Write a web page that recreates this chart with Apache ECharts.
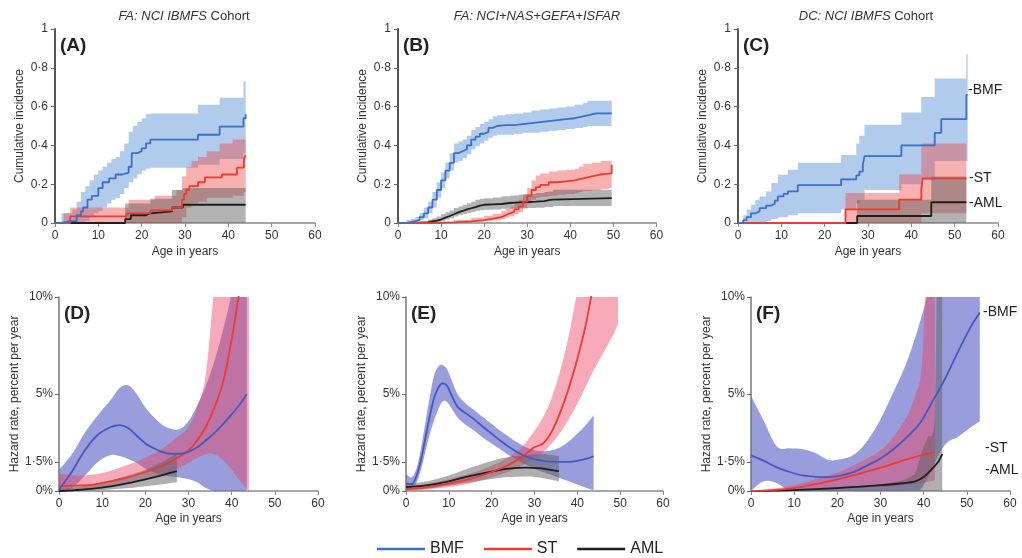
<!DOCTYPE html>
<html><head><meta charset="utf-8">
<script src="https://cdn.jsdelivr.net/npm/echarts@6/dist/echarts.min.js"></script>
<style>html,body{margin:0;padding:0;background:#fff}#c{width:1022px;height:558px}</style>
</head><body><div id="c"></div><script>
// ---------- DATA ----------
const seriesNames = ['BMF', 'ST', 'AML'];
const hazTicks = [0, 1.5, 5, 10];

// Panel A (FA: NCI IBMFS Cohort) cumulative incidence
const aBmfX = [0, 1.5, 3.5, 5, 6, 6.5, 7.5, 8.5, 10, 11, 12.5, 14, 15.5, 17, 17.7, 19, 20, 21, 22, 33, 38, 43.5, 44];
const aBmfY = [0, 0.01, 0.01, 0.04, 0.06, 0.08, 0.12, 0.14, 0.18, 0.21, 0.23, 0.25, 0.26, 0.29, 0.36, 0.37, 0.385, 0.41, 0.43, 0.455, 0.497, 0.54, 0.56];
const aBmfBandX = [1.5, 4, 5, 6, 7, 8, 9, 10, 11, 12, 13, 14, 15, 16, 17, 18, 19, 20, 21, 22, 33, 38, 43.5, 44];
const aBmfHi = [0.05, 0.07, 0.11, 0.16, 0.19, 0.22, 0.25, 0.27, 0.29, 0.31, 0.33, 0.34, 0.37, 0.41, 0.47, 0.5, 0.52, 0.54, 0.56, 0.565, 0.61, 0.645, 0.73, 0.73];
const aBmfLo = [0, 0, 0, 0, 0.01, 0.03, 0.05, 0.06, 0.08, 0.1, 0.12, 0.13, 0.15, 0.18, 0.21, 0.23, 0.25, 0.27, 0.28, 0.285, 0.3, 0.33, 0.36, 0.36];
const aStX = [0, 3.5, 16.5, 22, 27, 29.3, 29.8, 30.3, 31, 33, 34.6, 38.5, 42, 43.6, 44];
const aStY = [0, 0.034, 0.05, 0.065, 0.08, 0.12, 0.15, 0.17, 0.19, 0.21, 0.235, 0.25, 0.285, 0.33, 0.35];
const aStBandX = [2, 3.5, 17, 23, 28, 29.3, 30.3, 31.5, 33, 35, 38, 41, 43.6, 44];
const aStHi = [0.05, 0.08, 0.12, 0.14, 0.17, 0.24, 0.29, 0.32, 0.34, 0.37, 0.41, 0.43, 0.43, 0.43];
const aStLo = [0, 0, 0, 0, 0, 0.03, 0.08, 0.1, 0.11, 0.13, 0.13, 0.14, 0.16, 0.16];
const aAmlX = [0, 16.2, 17.5, 21, 22, 27, 29.5, 44];
const aAmlY = [0, 0.02, 0.04, 0.05, 0.06, 0.08, 0.094, 0.094];
const aAmlBandX = [16.2, 22, 27, 29.5, 44];
const aAmlHi = [0.1, 0.125, 0.17, 0.18, 0.18];
const aAmlLo = [0, 0, 0, 0, 0];

// Panel B (FA: NCI+NAS+GEFA+ISFAR)
const bBmfX = [0, 2, 3, 4, 5, 6, 7, 8, 9, 10, 11, 12, 13, 14, 15, 16, 17, 18, 19, 20, 21, 22, 23, 25, 27, 29, 31, 33, 35, 37, 39, 41, 43, 44, 46, 48, 49.6];
const bBmfY = [0, 0.005, 0.01, 0.015, 0.03, 0.05, 0.08, 0.12, 0.17, 0.22, 0.27, 0.31, 0.36, 0.37, 0.38, 0.40, 0.43, 0.445, 0.46, 0.47, 0.49, 0.50, 0.505, 0.505, 0.51, 0.515, 0.52, 0.525, 0.53, 0.535, 0.54, 0.55, 0.555, 0.565, 0.565, 0.565, 0.565];
const bBmfHi = [0.005, 0.015, 0.02, 0.03, 0.05, 0.08, 0.11, 0.16, 0.21, 0.26, 0.31, 0.36, 0.41, 0.42, 0.43, 0.45, 0.48, 0.495, 0.51, 0.52, 0.535, 0.55, 0.555, 0.56, 0.565, 0.57, 0.58, 0.585, 0.59, 0.595, 0.6, 0.61, 0.62, 0.63, 0.63, 0.63, 0.63];
const bBmfLo = [0, 0, 0, 0.005, 0.015, 0.025, 0.05, 0.08, 0.13, 0.18, 0.23, 0.27, 0.31, 0.32, 0.335, 0.355, 0.38, 0.395, 0.41, 0.425, 0.44, 0.45, 0.455, 0.455, 0.46, 0.465, 0.465, 0.47, 0.475, 0.48, 0.485, 0.49, 0.495, 0.5, 0.5, 0.5, 0.5];
const bStX = [0, 8, 13, 17, 20, 22, 24, 25, 26, 27, 28, 29, 30, 31, 32, 33, 35, 37, 39, 41, 42, 43, 45, 47, 49, 49.6];
const bStY = [0, 0.003, 0.008, 0.015, 0.022, 0.03, 0.04, 0.05, 0.058, 0.07, 0.085, 0.11, 0.14, 0.17, 0.185, 0.197, 0.21, 0.215, 0.22, 0.225, 0.23, 0.24, 0.25, 0.255, 0.255, 0.3];
const bStHi = [0, 0.006, 0.015, 0.027, 0.037, 0.048, 0.062, 0.074, 0.085, 0.1, 0.12, 0.15, 0.18, 0.22, 0.245, 0.255, 0.265, 0.27, 0.275, 0.28, 0.29, 0.305, 0.31, 0.32, 0.32, 0.38];
const bStLo = [0, 0, 0.002, 0.006, 0.01, 0.014, 0.02, 0.028, 0.035, 0.045, 0.055, 0.075, 0.1, 0.12, 0.13, 0.135, 0.14, 0.145, 0.15, 0.155, 0.16, 0.165, 0.17, 0.175, 0.18, 0.21];
const bAmlX = [0, 5, 7, 8, 9, 10, 11, 12, 13, 14, 15, 16, 17, 18, 19, 20, 22, 24, 26, 28, 30, 32, 34, 35, 36, 49.6];
const bAmlY = [0, 0.003, 0.008, 0.012, 0.018, 0.028, 0.036, 0.045, 0.055, 0.062, 0.07, 0.076, 0.082, 0.09, 0.094, 0.096, 0.098, 0.103, 0.106, 0.108, 0.11, 0.113, 0.118, 0.12, 0.128, 0.128];
const bAmlHi = [0.002, 0.01, 0.018, 0.025, 0.033, 0.045, 0.055, 0.065, 0.077, 0.085, 0.094, 0.102, 0.11, 0.12, 0.125, 0.128, 0.132, 0.138, 0.142, 0.146, 0.15, 0.154, 0.16, 0.163, 0.172, 0.172];
const bAmlLo = [0, 0, 0.001, 0.003, 0.006, 0.012, 0.018, 0.025, 0.033, 0.04, 0.046, 0.052, 0.057, 0.063, 0.066, 0.068, 0.07, 0.073, 0.075, 0.076, 0.077, 0.079, 0.082, 0.083, 0.087, 0.087];

// Panel C (DC: NCI IBMFS Cohort)
const cBmfX = [0, 1.2, 2, 3, 4, 5, 6.5, 7.7, 8.5, 9.2, 10.5, 11.5, 13.8, 23.8, 27.3, 28, 28.8, 29.2, 37.7, 45.4, 46.9, 52.7, 53];
const cBmfY = [0, 0.015, 0.03, 0.05, 0.06, 0.077, 0.09, 0.1, 0.115, 0.137, 0.15, 0.163, 0.195, 0.225, 0.245, 0.265, 0.3, 0.345, 0.4, 0.465, 0.535, 0.66, 0.66];
const cBmfBandX = [1.2, 2, 3, 4, 5, 6.5, 7.7, 9.2, 11.5, 13.8, 23.8, 27.3, 28, 29.2, 37.7, 42.3, 45.4, 52.7, 53];
const cBmfHi = [0.04, 0.07, 0.094, 0.12, 0.137, 0.163, 0.206, 0.249, 0.275, 0.31, 0.351, 0.41, 0.45, 0.506, 0.57, 0.65, 0.745, 0.87, 0.87];
const cBmfLo = [0, 0, 0, 0, 0.005, 0.01, 0.02, 0.03, 0.04, 0.05, 0.07, 0.1, 0.12, 0.17, 0.2, 0.22, 0.32, 0.32, 0.32];
const cStX = [0, 24.8, 37.2, 42.3, 42.6, 52.7];
const cStY = [0, 0.07, 0.12, 0.17, 0.23, 0.23];
const cStBandX = [24.8, 37.2, 42.3, 52.7];
const cStHi = [0.155, 0.25, 0.41, 0.41];
const cStLo = [0, 0, 0.05, 0.05];
const cAmlX = [0, 27.5, 44.6, 52.7];
const cAmlY = [0, 0.036, 0.107, 0.107];
const cAmlBandX = [27.5, 44.6, 52.7];
const cAmlHi = [0.12, 0.24, 0.24];
const cAmlLo = [0, 0, 0];

// Panel D hazard (%/year)
const dBmfX = [0, 3, 6, 9, 12, 14, 16, 18, 20, 22, 24, 26, 28, 30, 32, 34, 36, 38, 40, 42, 43.5];
const dBmfY = [0.05, 1.0, 2.1, 2.9, 3.3, 3.4, 3.25, 2.85, 2.45, 2.2, 2.0, 1.92, 1.92, 2.02, 2.25, 2.6, 3.0, 3.45, 3.95, 4.5, 5.0];
const dBmfHi = [1.1, 1.9, 3.0, 3.9, 4.7, 5.3, 5.45, 5.0, 4.3, 3.8, 3.4, 3.2, 3.2, 3.6, 4.4, 5.4, 6.7, 8.3, 10.2, 12.5, 14];
const dBmfLo = [0, 0.15, 0.8, 1.5, 1.85, 1.8, 1.65, 1.45, 1.15, 0.95, 0.8, 0.75, 0.7, 0.6, 0.45, 0.15, 0, 0, 0, 0, 0];
const dStX = [0, 4, 8, 12, 16, 20, 24, 27, 30, 32, 34, 36, 38, 40, 42, 44];
const dStY = [0.25, 0.28, 0.33, 0.5, 0.7, 0.98, 1.3, 1.65, 2.1, 2.6, 3.3, 4.3, 5.6, 7.8, 10.6, 13.5];
const dStHi = [0.9, 0.8, 0.85, 1.05, 1.35, 1.7, 2.2, 2.7, 3.3, 4.3, 6.0, 10.5, 14, 16, 18, 20];
const dStLo = [0, 0.03, 0.12, 0.25, 0.4, 0.6, 0.85, 1.1, 1.45, 1.7, 1.9, 1.9, 1.6, 1.1, 0.5, 0];
const dAmlX = [0, 4, 8, 12, 16, 20, 24, 27.3];
const dAmlY = [0.0, 0.05, 0.12, 0.24, 0.4, 0.6, 0.82, 1.02];
const dAmlHi = [0.1, 0.2, 0.35, 0.55, 0.8, 1.1, 1.5, 1.95];
const dAmlLo = [0, 0, 0.03, 0.08, 0.15, 0.25, 0.35, 0.45];

// Panel E hazard
const eBmfX = [0, 1.3, 2.5, 3.5, 4.5, 5.5, 6.5, 7.5, 8.5, 9.5, 10.5, 12, 14, 16, 18, 20, 22, 24, 26, 28, 30, 32, 34, 36, 38, 40, 42, 43.8];
const eBmfY = [0.39, 0.35, 0.8, 1.6, 2.7, 3.8, 4.75, 5.3, 5.55, 5.45, 5.0, 4.35, 4.0, 3.68, 3.3, 2.95, 2.6, 2.28, 2.0, 1.78, 1.63, 1.55, 1.51, 1.5, 1.5, 1.55, 1.65, 1.79];
const eBmfHi = [0.9, 0.7, 1.2, 2.2, 3.5, 4.8, 5.9, 6.4, 6.5, 6.3, 5.8, 5.0, 4.5, 4.15, 3.8, 3.45, 3.1, 2.8, 2.5, 2.25, 2.1, 2.05, 2.1, 2.25, 2.55, 2.95, 3.4, 3.9];
const eBmfLo = [0.1, 0.1, 0.45, 1.1, 2.0, 2.9, 3.6, 4.2, 4.6, 4.6, 4.3, 3.8, 3.4, 3.1, 2.75, 2.45, 2.15, 1.85, 1.6, 1.35, 1.15, 0.98, 0.82, 0.66, 0.5, 0.33, 0.17, 0.05];
const eStX = [0, 5, 10, 15, 20, 24, 27, 30, 32, 34, 36, 38, 40, 42, 44, 46, 48, 49.5];
const eStY = [0.1, 0.2, 0.38, 0.62, 0.98, 1.35, 1.75, 2.25, 2.45, 3.05, 4.05, 5.3, 6.8, 8.6, 10.9, 13, 15, 17];
const eStHi = [0.2, 0.35, 0.6, 0.9, 1.3, 1.75, 2.25, 3.1, 3.8, 4.8, 6.2, 8.0, 10.3, 12.5, 15, 18, 21, 24];
const eStLo = [0, 0.08, 0.2, 0.4, 0.7, 1.0, 1.3, 1.7, 2.0, 2.45, 3.0, 3.7, 4.5, 5.4, 6.3, 7.1, 7.9, 8.6];
const eAmlX = [0, 5, 10, 15, 20, 24, 28, 31, 33, 35.7];
const eAmlY = [0.2, 0.3, 0.5, 0.78, 1.0, 1.15, 1.2, 1.18, 1.12, 1.02];
const eAmlHi = [0.35, 0.5, 0.8, 1.2, 1.55, 1.75, 1.85, 1.9, 1.88, 1.8];
const eAmlLo = [0.05, 0.12, 0.28, 0.45, 0.62, 0.72, 0.75, 0.7, 0.62, 0.5];

// Panel F hazard
const fBmfX = [0, 3, 6, 9, 12, 15, 18, 21, 24, 27, 30, 33, 36, 39, 42, 45, 48, 51, 53];
const fBmfY = [1.84, 1.55, 1.22, 0.98, 0.8, 0.73, 0.72, 0.8, 1.0, 1.33, 1.68, 2.15, 2.75, 3.45, 4.6, 5.8, 7.2, 8.5, 9.2];
const fBmfHi = [4.9, 3.6, 2.3, 2.2, 2.15, 1.95, 1.6, 1.65, 1.9, 2.6, 3.7, 5.1, 6.6, 8.6, 11, 13, 15, 17, 18];
const fBmfLo = [0, 0.5, 0.4, 0, 0, 0, 0, 0, 0, 0, 0, 0, 0, 0, 1.2, 2.4, 2.8, 3.3, 3.6];
const fStX = [0, 5, 10, 15, 20, 25, 30, 35, 40, 42.6];
const fStY = [0, 0.05, 0.15, 0.35, 0.6, 0.88, 1.2, 1.55, 1.88, 2.0];
const fStBandX = [0, 5, 10, 15, 20, 25, 30, 33, 36, 38, 39.5, 40.5, 42.6];
const fStHi = [0, 0.12, 0.3, 0.6, 0.95, 1.45, 2.1, 2.8, 3.8, 4.9, 6.3, 10.5, 16];
const fStLo = [0, 0, 0.02, 0.05, 0.1, 0.15, 0.2, 0.25, 0.3, 0.35, 0.4, 0.45, 0.55];
const fAmlX = [0, 10, 20, 30, 35, 38, 40, 42, 43.5, 44.3];
const fAmlY = [0, 0.05, 0.15, 0.3, 0.4, 0.5, 0.72, 1.15, 1.55, 1.9];
const fAmlBandX = [0, 10, 20, 30, 35, 38, 39.5, 41, 42.6, 43.6, 44.3];
const fAmlHi = [0, 0.1, 0.2, 0.35, 0.55, 0.9, 2.0, 2.8, 4.0, 20, 20];
const fAmlLo = [0, 0, 0, 0, 0, 0, 0, 0, 0, 0, 0];

// ---------- STYLE ----------
const FONT = '"Liberation Sans", Arial, sans-serif';
const C = {
  topBlue: '#3d6fc4', hazBlue: '#4558c0', red: '#ec3b30', black: '#1e1e1e',
  topBlueBand: 'rgba(80,140,210,0.45)', topRedBand: 'rgba(235,70,70,0.42)', topGrayBand: 'rgba(85,85,85,0.45)',
  hazBlueBand: 'rgba(100,105,200,0.65)', hazRedBand: 'rgba(235,65,100,0.45)', hazGrayBand: 'rgba(95,95,95,0.5)'
};

function pairs(xs, ys) { return xs.map((x, i) => [x, ys[i]]); }

// smooth (Catmull-Rom) path through pixel points, continuing from current position
function smoothSeg(pts, t) {
  let d = '';
  for (let i = 0; i < pts.length - 1; i++) {
    const p0 = pts[Math.max(0, i - 1)], p1 = pts[i], p2 = pts[i + 1], p3 = pts[Math.min(pts.length - 1, i + 2)];
    const c1 = [p1[0] + (p2[0] - p0[0]) * t, p1[1] + (p2[1] - p0[1]) * t];
    const c2 = [p2[0] - (p3[0] - p1[0]) * t, p2[1] - (p3[1] - p1[1]) * t];
    d += ' C' + c1[0] + ' ' + c1[1] + ' ' + c2[0] + ' ' + c2[1] + ' ' + p2[0] + ' ' + p2[1];
  }
  return d;
}
function stepPts(pts) {
  const out = [pts[0]];
  for (let i = 1; i < pts.length; i++) { out.push([pts[i][0], pts[i - 1][1]]); out.push(pts[i]); }
  return out;
}

function band(g, xs, lo, hi, color, mode) {
  return {
    type: 'custom', xAxisIndex: g, yAxisIndex: g, silent: true, z: 1, clip: true,
    data: xs.map((x, i) => [x, lo[i], hi[i]]),
    encode: { x: 0, y: [1, 2] },
    renderItem: function (params, api) {
      if (params.dataIndex !== 0) return null;
      const up = xs.map((x, i) => api.coord([x, hi[i]]));
      const dn = xs.map((x, i) => api.coord([x, lo[i]]));
      let d;
      if (mode === 'step') {
        const u = stepPts(up), l = stepPts(dn).reverse();
        d = 'M' + u.map(p => p[0] + ' ' + p[1]).join(' L') + ' L' + l.map(p => p[0] + ' ' + p[1]).join(' L') + ' Z';
      } else {
        const l = dn.slice().reverse();
        d = 'M' + up[0][0] + ' ' + up[0][1] + smoothSeg(up, mode) + ' L' + l[0][0] + ' ' + l[0][1] + smoothSeg(l, mode) + ' Z';
      }
      const cs = params.coordSys;
      return { type: 'path', shape: { pathData: d }, style: { fill: color },
        clipPath: { type: 'rect', shape: { x: cs.x, y: cs.y, width: cs.width, height: cs.height } } };
    }
  };
}
function line(g, name, xs, ys, color, mode) {
  const s = { type: 'line', name: name, xAxisIndex: g, yAxisIndex: g, data: pairs(xs, ys), showSymbol: false,
    color: color, lineStyle: { color: color, width: 1.8 }, z: 3, silent: true };
  if (mode === 'step') s.step = 'end'; else s.smooth = 0.3;
  return s;
}

const grids = [
  { left: 55, top: 29, width: 260, height: 194 },
  { left: 398, top: 29, width: 258.5, height: 194 },
  { left: 738, top: 29, width: 260, height: 194 },
  { left: 59, top: 297, width: 259, height: 194 },
  { left: 406, top: 297, width: 257, height: 194 },
  { left: 751, top: 297, width: 259, height: 194 }
];

function xAx(g) {
  return { gridIndex: g, type: 'value', min: 0, max: 60, interval: 10,
    name: 'Age in years', nameLocation: 'middle', nameGap: g < 3 ? 23 : 22,
    nameTextStyle: { fontFamily: FONT, fontSize: 12, color: '#333' },
    axisLine: { show: true, onZero: false, lineStyle: { color: '#8a8a8a', width: 1.5 } },
    axisTick: { show: true, length: 4, lineStyle: { color: '#8a8a8a' } },
    axisLabel: { color: '#333', fontSize: 12, fontFamily: FONT, margin: 7 },
    splitLine: { show: false } };
}
function yTop(g) {
  return { gridIndex: g, type: 'value', min: 0, max: 1, interval: 0.2,
    name: 'Cumulative incidence', nameLocation: 'middle', nameGap: 29,
    nameTextStyle: { fontFamily: FONT, fontSize: 12, color: '#333' },
    axisLine: { show: true, lineStyle: { color: '#5a5555', width: 2 } },
    axisTick: { show: true, length: 4, lineStyle: { color: '#666' } },
    axisLabel: { color: '#333', fontSize: 12, fontFamily: FONT, margin: 7,
      formatter: v => v === 0 ? '0' : (v === 1 ? '1' : '0·' + Math.round(v * 10)) },
    splitLine: { show: false } };
}
function yHaz(g) {
  return { gridIndex: g, type: 'value', min: 0, max: 10,
    name: 'Hazard rate, percent per year', nameLocation: 'middle', nameGap: 33,
    nameTextStyle: { fontFamily: FONT, fontSize: 12, color: '#333' },
    axisLine: { show: true, lineStyle: { color: '#777', width: 1.5 } },
    axisTick: { show: true, length: 4, customValues: hazTicks, lineStyle: { color: '#666' } },
    axisLabel: { color: '#333', fontSize: 12, fontFamily: FONT, margin: 6, customValues: hazTicks,
      formatter: v => String(v).replace('.', '·') + '%' },
    splitLine: { show: false } };
}

const S = 'step';
const SM = 0.18;
const series = [
  // A
  band(0, aBmfBandX, aBmfLo, aBmfHi, C.topBlueBand, S),
  band(0, aStBandX, aStLo, aStHi, C.topRedBand, S),
  band(0, aAmlBandX, aAmlLo, aAmlHi, C.topGrayBand, S),
  line(0, 'AML', aAmlX, aAmlY, C.black, S), line(0, 'ST', aStX, aStY, C.red, S), line(0, 'BMF', aBmfX, aBmfY, C.topBlue, S),
  // B
  band(1, bBmfX, bBmfLo, bBmfHi, C.topBlueBand, S),
  band(1, bStX, bStLo, bStHi, C.topRedBand, S),
  band(1, bAmlX, bAmlLo, bAmlHi, C.topGrayBand, S),
  line(1, 'AML', bAmlX, bAmlY, C.black, S), line(1, 'ST', bStX, bStY, C.red, S), line(1, 'BMF', bBmfX, bBmfY, C.topBlue, S),
  // C
  band(2, cBmfBandX, cBmfLo, cBmfHi, C.topBlueBand, S),
  band(2, cStBandX, cStLo, cStHi, C.topRedBand, S),
  band(2, cAmlBandX, cAmlLo, cAmlHi, C.topGrayBand, S),
  line(2, 'AML', cAmlX, cAmlY, C.black, S), line(2, 'ST', cStX, cStY, C.red, S), line(2, 'BMF', cBmfX, cBmfY, C.topBlue, S),
  // D
  band(3, dBmfX, dBmfLo, dBmfHi, C.hazBlueBand, SM),
  band(3, dStX, dStLo, dStHi, C.hazRedBand, SM),
  band(3, dAmlX, dAmlLo, dAmlHi, C.hazGrayBand, SM),
  line(3, 'AML', dAmlX, dAmlY, C.black, SM), line(3, 'ST', dStX, dStY, C.red, SM), line(3, 'BMF', dBmfX, dBmfY, C.hazBlue, SM),
  // E
  band(4, eBmfX, eBmfLo, eBmfHi, C.hazBlueBand, SM),
  band(4, eStX, eStLo, eStHi, C.hazRedBand, SM),
  band(4, eAmlX, eAmlLo, eAmlHi, C.hazGrayBand, SM),
  line(4, 'AML', eAmlX, eAmlY, C.black, SM), line(4, 'ST', eStX, eStY, C.red, SM), line(4, 'BMF', eBmfX, eBmfY, C.hazBlue, SM),
  // F
  band(5, fBmfX, fBmfLo, fBmfHi, C.hazBlueBand, SM),
  band(5, fStBandX, fStLo, fStHi, C.hazRedBand, SM),
  band(5, fAmlBandX, fAmlLo, fAmlHi, C.hazGrayBand, 0.1),
  line(5, 'AML', fAmlX, fAmlY, C.black, SM), line(5, 'ST', fStX, fStY, C.red, SM), line(5, 'BMF', fBmfX, fBmfY, C.hazBlue, SM)
];

function txt(x, y, text, extra) {
  return { type: 'text', x: x, y: y, z: 100, silent: true,
    style: Object.assign({ text: text, fontFamily: FONT, fontSize: 13, fill: '#333',
      align: 'left', verticalAlign: 'middle', textAlign: 'left', textVerticalAlign: 'middle' }, extra || {}) };
}
const italic = { i: { fontStyle: 'italic', fontFamily: FONT, fontSize: 13, fill: '#333', color: '#333' } };
const centre = { align: 'center', textAlign: 'center' };
const panelLab = { fontSize: 19, fontWeight: 'bold', fill: '#222', verticalAlign: 'top', textVerticalAlign: 'top' };
const sideLab = { fontSize: 14, fill: '#222' };

const graphic = [
  txt(184, 16, '{i|FA: NCI IBMFS} Cohort', Object.assign({ rich: italic }, centre)),
  txt(537, 16, '{i|FA: NCI+NAS+GEFA+ISFAR}', Object.assign({ rich: italic }, centre)),
  txt(866, 16, '{i|DC: NCI IBMFS} Cohort', Object.assign({ rich: italic }, centre)),
  txt(60, 36, '(A)', panelLab), txt(403, 36, '(B)', panelLab), txt(743, 36, '(C)', panelLab),
  txt(64, 304, '(D)', panelLab), txt(411, 304, '(E)', panelLab), txt(756, 304, '(F)', panelLab),
  txt(968, 90, '-BMF', sideLab), txt(969, 178, '-ST', sideLab), txt(969, 203, '-AML', sideLab),
  txt(983, 312, '-BMF', sideLab), txt(985, 448, '-ST', sideLab), txt(985, 470, '-AML', sideLab)
];

const chart = echarts.init(document.getElementById('c'), null, { renderer: 'canvas' });
chart.setOption({
  animation: false,
  backgroundColor: '#fff',
  grid: grids,
  xAxis: [0, 1, 2, 3, 4, 5].map(xAx),
  yAxis: [yTop(0), yTop(1), yTop(2), yHaz(3), yHaz(4), yHaz(5)],
  legend: { data: seriesNames, left: 372, top: 536, icon: 'rect', itemWidth: 48, itemHeight: 2.5,
    itemGap: 20, textStyle: { fontFamily: FONT, fontSize: 16, color: '#222' }, selectedMode: false },
  graphic: graphic,
  series: series
});
</script></body></html>
